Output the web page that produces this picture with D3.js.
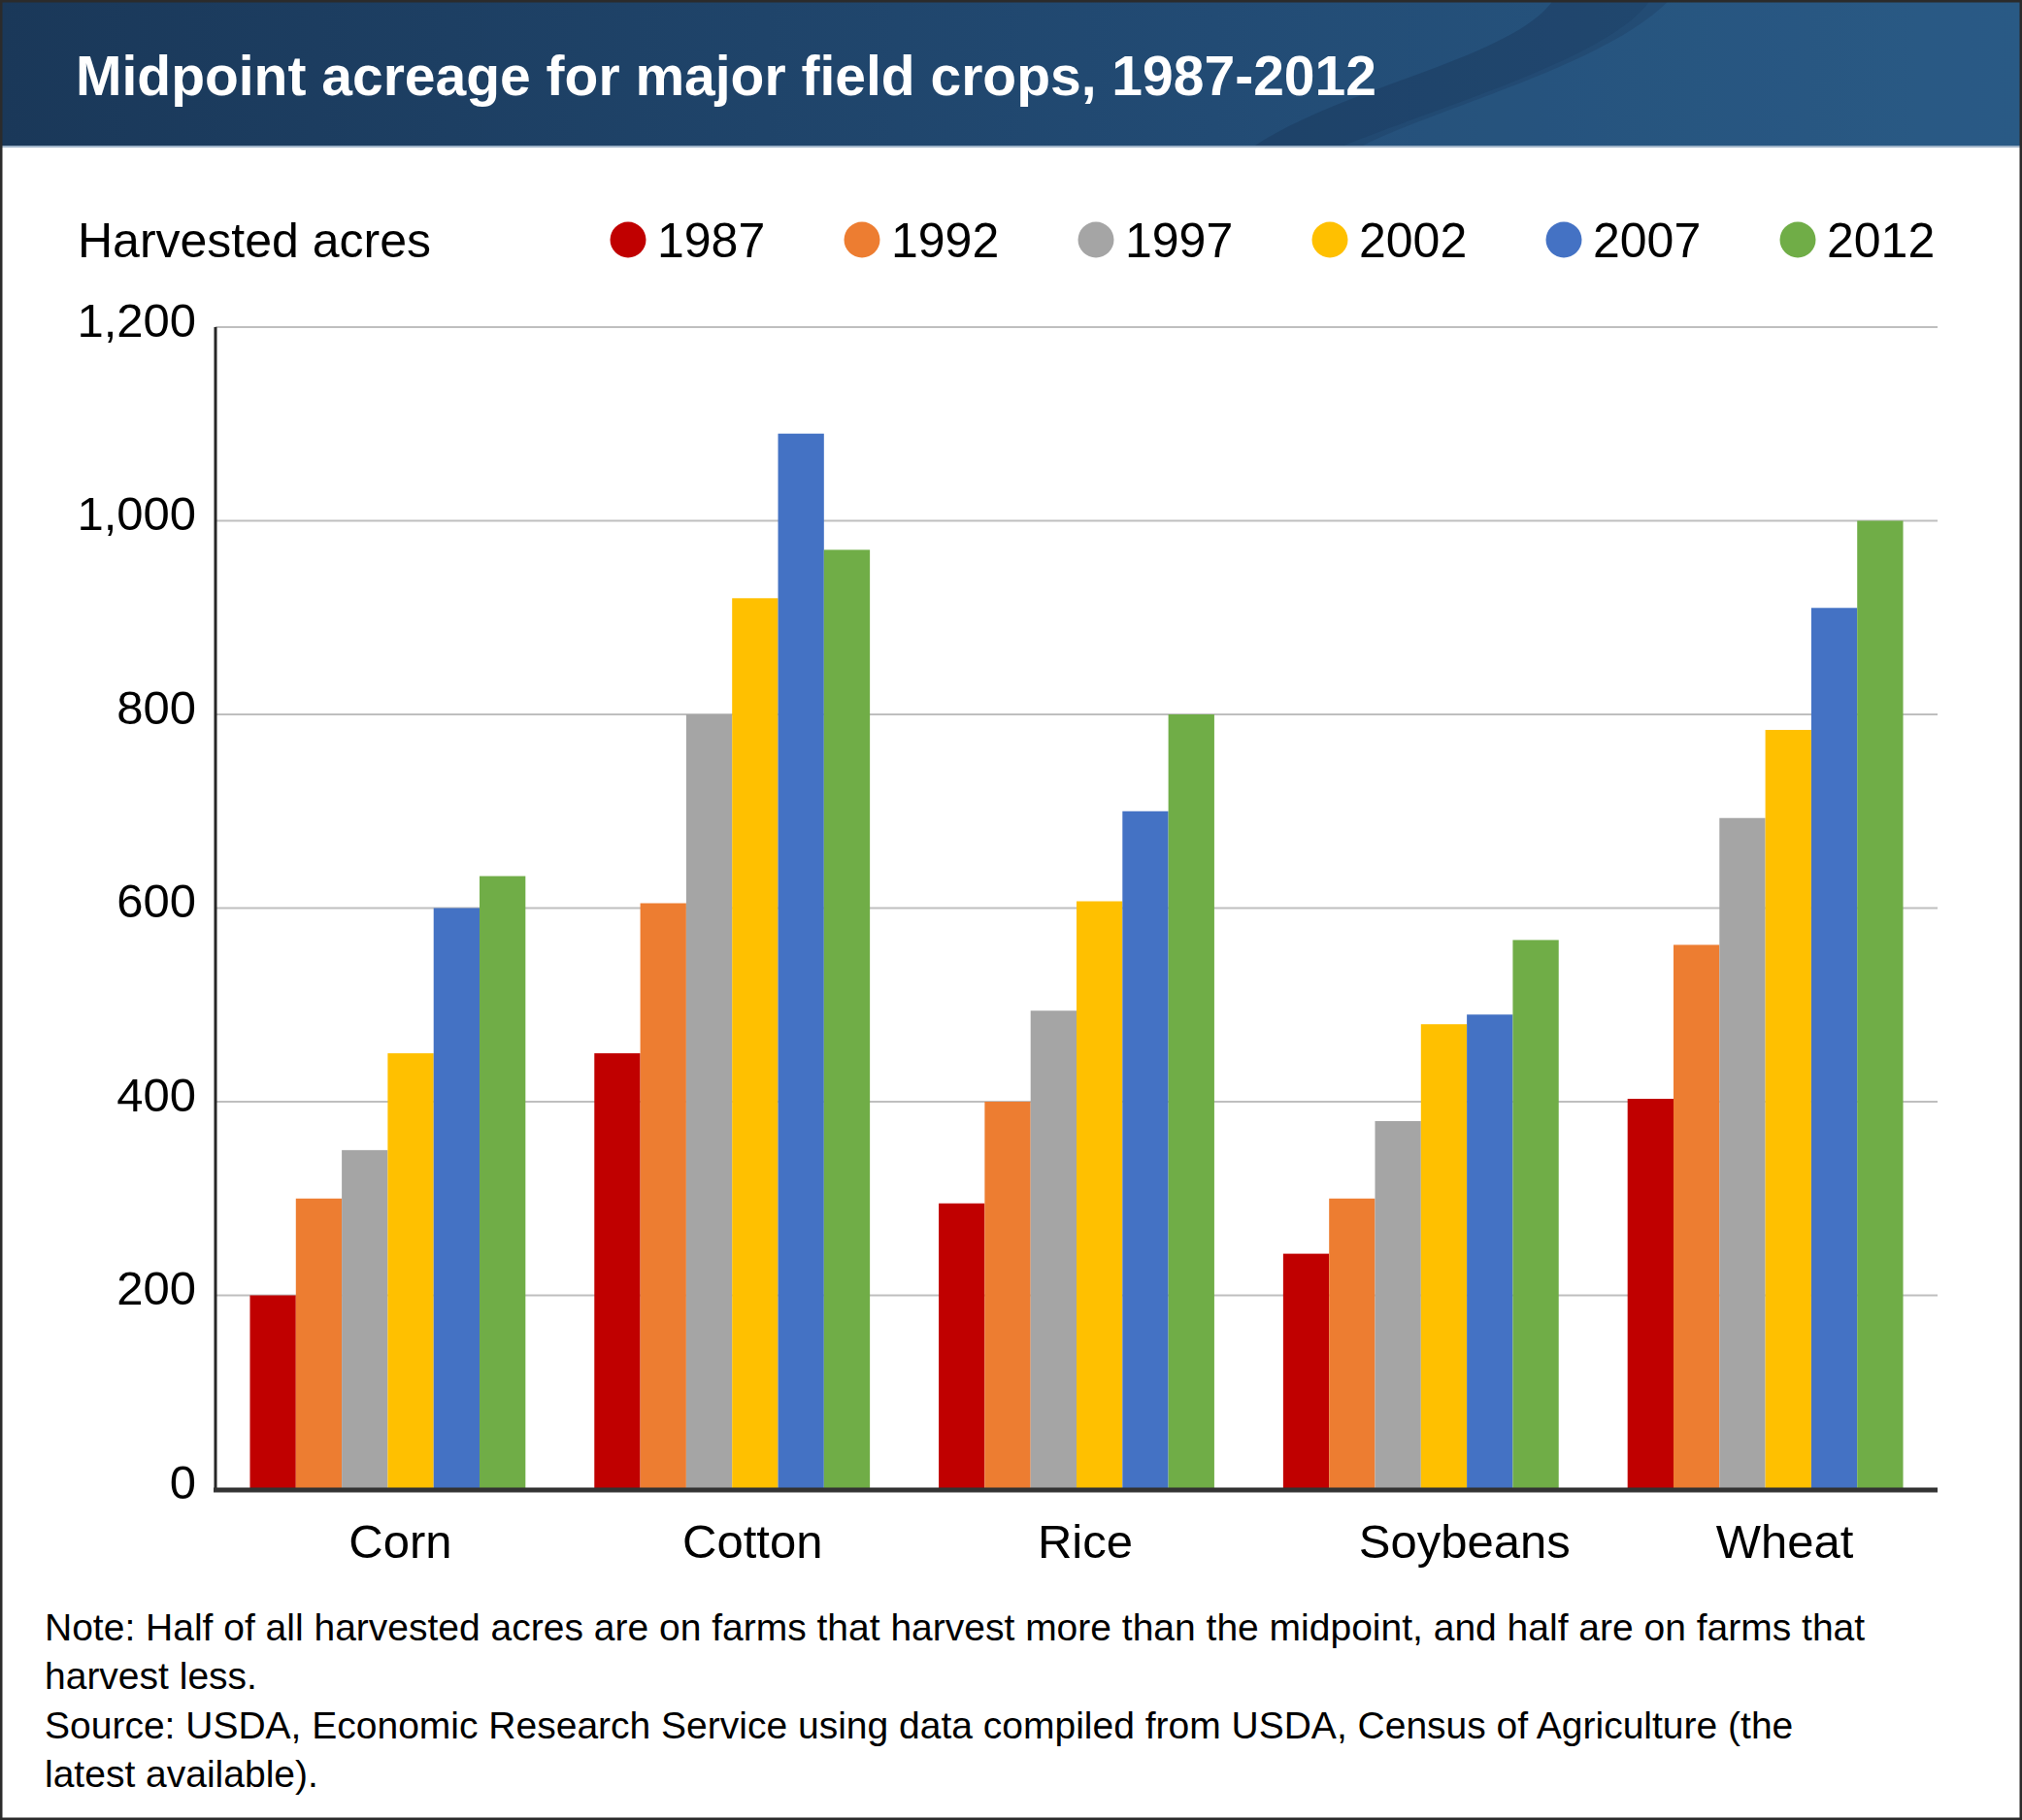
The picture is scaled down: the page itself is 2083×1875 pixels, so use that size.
<!DOCTYPE html>
<html>
<head>
<meta charset="utf-8">
<script src="https://cdn.jsdelivr.net/npm/d3@7"></script>
<style>
  body { margin: 0; background: #fff; }
  text { font-family: "Liberation Sans", Arial, Helvetica, sans-serif; }
</style>
</head>
<body>
<div id="chart-area"></div>
<script>
// Data
var crops = ["Corn", "Cotton", "Rice", "Soybeans", "Wheat"];
var years = ["1987", "1992", "1997", "2002", "2007", "2012"];
var colors = ["#C00000", "#ED7D31", "#A5A5A5", "#FFC000", "#4472C4", "#70AD47"];

var acres1987 = [200, 450, 295, 243, 403];
var acres1992 = [300, 605, 400, 300, 562];
var acres1997 = [350, 800, 494, 380, 693];
var acres2002 = [450, 920, 607, 480, 784];
var acres2007 = [600, 1090, 700, 490, 910];
var acres2012 = [633, 970, 800, 567, 1000];

var yTicks = [0, 200, 400, 600, 800, 1000, 1200];

var title = "Midpoint acreage for major field crops, 1987-2012";
var yTitle = "Harvested acres";
var notes = [
    "Note: Half of all harvested acres are on farms that harvest more than the midpoint, and half are on farms that",
    "harvest less.",
    "Source: USDA, Economic Research Service using data compiled from USDA, Census of Agriculture (the",
    "latest available)."
];

var series = [acres1987, acres1992, acres1997, acres2002, acres2007, acres2012];

var width = 2083,
    height = 1875;

var svg = d3.select("#chart-area")
    .append("svg")
    .attr("width", width)
    .attr("height", height);

// Header band
var defs = svg.append("defs");
var grad = defs.append("linearGradient")
    .attr("id", "hdr")
    .attr("x1", "0%").attr("x2", "100%")
    .attr("y1", "0%").attr("y2", "0%");
grad.append("stop").attr("offset", "0%").attr("stop-color", "#1a3859");
grad.append("stop").attr("offset", "60%").attr("stop-color", "#224b74");
grad.append("stop").attr("offset", "100%").attr("stop-color", "#295a85");

svg.append("rect")
    .attr("x", 0).attr("y", 0)
    .attr("width", width).attr("height", 152)
    .attr("fill", "url(#hdr)");

// swoosh
svg.append("path")
    .attr("d", "M1290,152 C1380,90 1560,60 1600,0 L1720,0 C1650,70 1480,110 1400,152 Z")
    .attr("fill", "#163252")
    .attr("opacity", 0.35);
svg.append("path")
    .attr("d", "M1380,152 C1480,110 1660,60 1700,0 L2083,0 L2083,152 Z")
    .attr("fill", "#2a5b86")
    .attr("opacity", 0.25);

svg.append("rect")
    .attr("x", 0).attr("y", 150)
    .attr("width", width).attr("height", 2)
    .attr("fill", "#9fb3c8");

svg.append("text")
    .attr("x", 78)
    .attr("y", 98)
    .attr("fill", "#fff")
    .attr("font-size", "57px")
    .attr("font-weight", "bold")
    .text(title);

// Scales
var x0 = d3.scaleBand()
    .domain(crops)
    .range([222, 1996])
    .paddingInner(0.2)
    .paddingOuter(0.1);

var x1 = d3.scaleBand()
    .domain(years)
    .range([0, x0.bandwidth()]);

var y = d3.scaleLinear()
    .domain([0, 1200])
    .range([1534, 337]);

var color = d3.scaleOrdinal()
    .domain(years)
    .range(colors);

// Gridlines
svg.append("g")
    .selectAll("line")
    .data(yTicks.slice(1))
    .enter()
    .append("line")
    .attr("x1", 222)
    .attr("x2", 1996)
    .attr("y1", function(d){ return y(d); })
    .attr("y2", function(d){ return y(d); })
    .attr("stroke", "#bfbfbf")
    .attr("stroke-width", 2);

// Y-axis labels
var yAxisCall = d3.axisLeft(y)
    .tickValues(yTicks)
    .tickSize(0)
    .tickPadding(20)
    .tickFormat(d3.format(","));
var yAxis = svg.append("g")
    .attr("transform", "translate(222,0)")
    .call(yAxisCall);
yAxis.select(".domain").remove();
yAxis.selectAll("text")
    .attr("font-family", "'Liberation Sans', Arial, sans-serif")
    .attr("font-size", "49px")
    .attr("fill", "#000")
    .attr("dy", "0.19em");

// Bars
var rows = crops.map(function(c, i){
    return { crop: c, values: years.map(function(yr, j){ return { year: yr, value: series[j][i] }; }) };
});

var groups = svg.append("g")
    .selectAll("g")
    .data(rows)
    .enter()
    .append("g")
    .attr("transform", function(d){ return "translate(" + x0(d.crop) + ",0)"; });

groups.selectAll("rect")
    .data(function(d){ return d.values; })
    .enter()
    .append("rect")
    .attr("x", function(d){ return x1(d.year); })
    .attr("y", function(d){ return y(d.value); })
    .attr("width", x1.bandwidth())
    .attr("height", function(d){ return y(0) - y(d.value); })
    .attr("fill", function(d){ return color(d.year); });

// Axis lines
svg.append("line")
    .attr("x1", 222).attr("x2", 222)
    .attr("y1", y(1200)).attr("y2", y(0))
    .attr("stroke", "#262626")
    .attr("stroke-width", 3);

svg.append("line")
    .attr("x1", 220).attr("x2", 1996)
    .attr("y1", y(0) + 1).attr("y2", y(0) + 1)
    .attr("stroke", "#333")
    .attr("stroke-width", 5);

// X labels (the source nudges each label a little right of its group)
var labelNudge = { Corn: 13, Cotton: 21, Rice: 9, Soybeans: 45, Wheat: 20 };
var xAxisCall = d3.axisBottom(x0)
    .tickSize(0)
    .tickPadding(0);
var xAxis = svg.append("g")
    .attr("transform", "translate(0," + y(0) + ")")
    .call(xAxisCall);
xAxis.select(".domain").remove();
xAxis.selectAll("text")
    .attr("font-family", "'Liberation Sans', Arial, sans-serif")
    .attr("font-size", "49px")
    .attr("fill", "#000")
    .attr("dx", function(d){ return labelNudge[d]; })
    .attr("y", 71)
    .attr("dy", 0);

// Legend
svg.append("text")
    .attr("x", 80)
    .attr("y", 265)
    .attr("font-size", "50px")
    .attr("fill", "#000")
    .text(yTitle);

var legend = svg.append("g")
    .selectAll("g")
    .data(years)
    .enter()
    .append("g")
    .attr("transform", function(d, i){ return "translate(" + (647 + i * 241) + ",247)"; });

legend.append("circle")
    .attr("r", 18.5)
    .attr("fill", function(d){ return color(d); });

legend.append("text")
    .attr("x", 30)
    .attr("y", 18)
    .attr("font-size", "50px")
    .attr("fill", "#000")
    .text(function(d){ return d; });

// Notes
svg.append("g")
    .selectAll("text")
    .data(notes)
    .enter()
    .append("text")
    .attr("x", 46)
    .attr("y", function(d, i){ return 1690 + i * 50.3; })
    .attr("font-size", "39px")
    .attr("fill", "#000")
    .text(function(d){ return d; });

// Outer frame
svg.append("rect")
    .attr("x", 1).attr("y", 1)
    .attr("width", width - 2).attr("height", height - 2)
    .attr("fill", "none")
    .attr("stroke", "#2b2b2b")
    .attr("stroke-width", 3);
</script>
</body>
</html>
